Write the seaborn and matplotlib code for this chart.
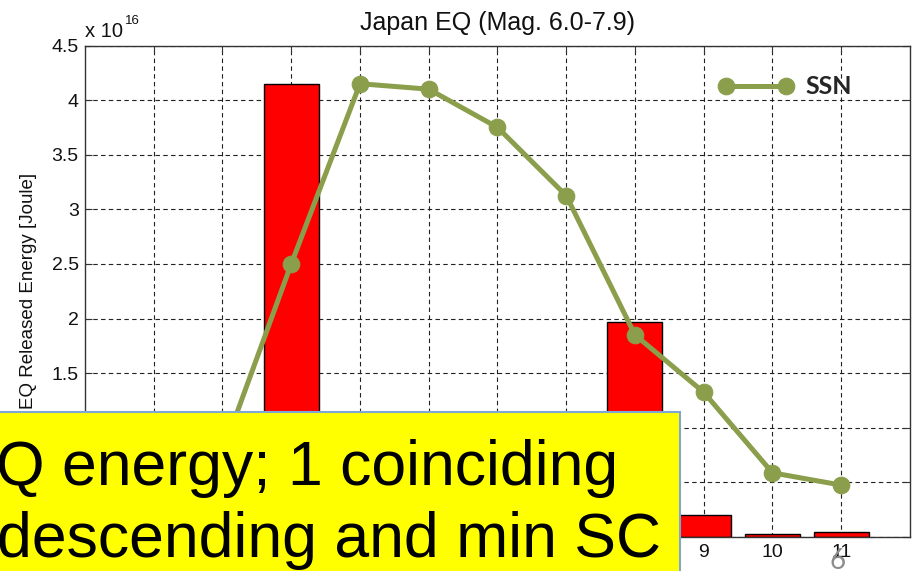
import numpy as np
import pandas as pd
import matplotlib
matplotlib.use("Agg")
import matplotlib.pyplot as plt
from matplotlib.patches import Rectangle
from matplotlib.ticker import FuncFormatter
import seaborn as sns

# years of the solar cycle on the x axis
cycle_year = [1, 2, 3, 4, 5, 6, 7, 8, 9, 10, 11]
# EQ released energy [Joule]; years 1, 2 and 4-7 sit under the yellow note box
eq_energy = [0.02e16, 0.30e16, 4.15e16, 0.10e16, 0.05e16, 0.20e16, 0.10e16,
             1.97e16, 0.20e16, 0.03e16, 0.045e16]
# sunspot number, drawn on its own (hidden) scale
ssn = [12, 31, 100, 166, 164, 150, 125, 74, 53, 23.5, 19]

y_ticks = [0, 0.5, 1, 1.5, 2, 2.5, 3, 3.5, 4, 4.5]
title = "Japan EQ (Mag. 6.0-7.9)"
note_lines = ["Q energy; 1 coinciding", "descending and min SC"]

GREEN = "#8A9E4B"
W, H = 916, 571

sns.set_style("white")
plt.rcParams["font.family"] = ["Liberation Sans", "DejaVu Sans"]

df = pd.DataFrame({"year": cycle_year, "energy": eq_energy, "ssn": ssn})

fig = plt.figure(figsize=(W / 100, H / 100), dpi=100)
ax = fig.add_axes([85 / W, 34 / H, 825 / W, 491.5 / H])

sns.barplot(data=df, x="year", y="energy", native_scale=True, width=0.8,
            color="#FF0000", saturation=1, edgecolor="black", linewidth=1, ax=ax)
ax.set_axisbelow(True)

ax2 = ax.twinx()
sns.lineplot(data=df, x="year", y="ssn", color=GREEN, linewidth=3.6, marker="o",
             markersize=12, markeredgecolor=GREEN, label="SSN", ax=ax2)
ax2.set_ylim(0, 180)
ax2.set_yticks([])
ax2.set_ylabel("")
for s in ax2.spines.values():
    s.set_visible(False)

ax2.legend(loc="center left", bbox_to_anchor=(0.768, 0.916), frameon=False,
           borderpad=0, borderaxespad=0, handlelength=3.0, handletextpad=0.46,
           numpoints=2, prop={"family": "Lato", "weight": "bold", "size": 18})

ax.set_xlim(0, 12)
ax.set_xticks(cycle_year)
ax.set_ylim(0, 4.5e16)
ax.set_yticks([v * 1e16 for v in y_ticks])
ax.yaxis.set_major_formatter(FuncFormatter(lambda v, p: f"{v / 1e16:g}"))
ax.set_xlabel("")
ax.set_ylabel("EQ Released Energy [Joule]", fontsize=13.5, color="#111111")
ax.yaxis.set_label_coords(-0.058, 0.5)
ax.set_title(title, fontsize=18, pad=11, color="#111111")

ax.grid(True, color="#222222", linestyle=(0, (4, 3)), linewidth=0.8)
ax.tick_params(direction="in", length=5, width=0.8, top=True, right=True,
               labelsize=14, labelcolor="#111111", colors="#333333")
ax.tick_params(axis="y", pad=4.5)
ax.tick_params(axis="x", pad=5)
for s in ax.spines.values():
    s.set_color("#333333")
    s.set_linewidth(1.0)

# MATLAB-style exponent label
fig.text(85 / W, 1 - 37 / H, "x 10", fontsize=14.5, va="baseline", color="#111111")
fig.text(125 / W, 1 - 24 / H, "16", fontsize=9.5, va="baseline", color="#111111")

# yellow note box laid over the lower-left corner
fig.add_artist(Rectangle((-0.02, -0.02), 680 / W + 0.02, 159 / H + 0.02,
                         transform=fig.transFigure, facecolor="#FFFF00",
                         edgecolor="#7FA7D6", linewidth=1.5, zorder=10))
fig.text(-4 / W, 86 / H, note_lines[0], fontsize=45, va="baseline",
         color="black", zorder=11)
fig.text(-3 / W, 14 / H, note_lines[1], fontsize=45, va="baseline",
         color="black", zorder=11)

# slide number
fig.text(838 / W, 1 - 548 / H, "6", fontsize=20, ha="center", va="top",
         color="#8C8C8C", family="Lato", zorder=12)

fig.savefig("out.png", dpi=100)
